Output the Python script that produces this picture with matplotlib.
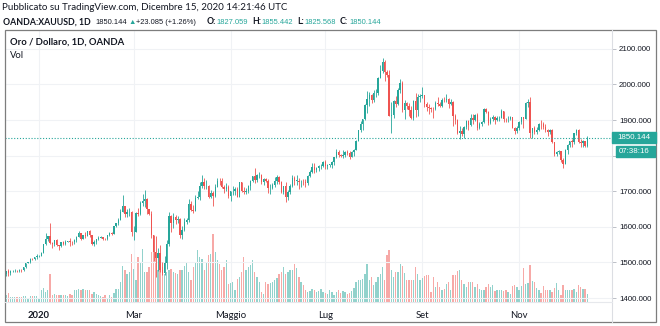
import matplotlib
matplotlib.use("Agg")
import matplotlib.pyplot as plt
from matplotlib import font_manager
from matplotlib.patches import Rectangle
from matplotlib.lines import Line2D
import numpy as np
import pandas as pd

W, H = 660, 326
FONT = ["Lato", "DejaVu Sans"]
_names = {f.name for f in font_manager.fontManager.ttflist}
if "Liberation Sans Narrow" in _names:
    NUM_FONT, NUM_SIZE, HEAD_NUM_SIZE = ["Liberation Sans Narrow", "DejaVu Sans"], 6.8, 6.5
else:
    NUM_FONT, NUM_SIZE, HEAD_NUM_SIZE = ["Liberation Sans", "DejaVu Sans"], 5.7, 5.4
UP = "#26a69a"
DOWN = "#ef5350"
UP_VOL = "#92d2cc"
DOWN_VOL = "#f7a9a7"
TXT = "#131722"

# trading days, OANDA:XAUUSD daily
dates = pd.bdate_range("2019-12-11", "2020-12-15")

# closes per month
close_dec19 = [1475, 1471, 1476, 1476, 1476, 1475, 1479, 1478, 1486, 1499, 1500, 1511, 1510, 1515, 1517]
close_jan = [1518, 1528, 1552, 1566, 1574, 1556, 1552, 1562, 1548, 1545, 1557, 1552, 1557, 1560, 1558, 1557,
             1563, 1571, 1582, 1567, 1576, 1575, 1589]
close_feb = [1577, 1553, 1557, 1566, 1570, 1572, 1567, 1565, 1576, 1584, 1581, 1602, 1611, 1620, 1643, 1658,
             1635, 1641, 1643, 1585]
close_mar = [1587, 1640, 1636, 1668, 1674, 1679, 1649, 1635, 1576, 1530, 1512, 1527, 1478, 1470, 1498, 1553,
             1631, 1611, 1629, 1618, 1621, 1577]
close_apr = [1591, 1613, 1620, 1663, 1647, 1646, 1681, 1683, 1714, 1727, 1715, 1716, 1683, 1694, 1686, 1713,
             1730, 1729, 1713, 1707, 1713, 1686]
close_may = [1700, 1702, 1706, 1685, 1725, 1702, 1697, 1702, 1715, 1730, 1743, 1732, 1745, 1747, 1725, 1735,
             1728, 1709, 1709, 1719, 1730]
close_jun = [1740, 1727, 1699, 1714, 1684, 1697, 1714, 1737, 1730, 1730, 1726, 1727, 1726, 1722, 1743, 1754,
             1768, 1761, 1764, 1771, 1772, 1781]
close_jul = [1770, 1775, 1775, 1783, 1795, 1809, 1803, 1799, 1802, 1810, 1807, 1796, 1810, 1817, 1842, 1871,
             1888, 1902, 1941, 1958, 1970, 1956, 1975]
close_aug = [1976, 2019, 2039, 2063, 2035, 2028, 1911, 1915, 1954, 1944, 1985, 2003, 1929, 1947, 1940, 1929,
             1907, 1954, 1929, 1964, 1968]
close_sep = [1970, 1944, 1938, 1934, 1932, 1931, 1947, 1946, 1940, 1957, 1955, 1960, 1944, 1950, 1912, 1900,
             1863, 1868, 1862, 1881, 1898, 1886]
close_oct = [1906, 1900, 1913, 1877, 1888, 1894, 1931, 1922, 1892, 1902, 1908, 1900, 1905, 1907, 1925, 1904,
             1902, 1902, 1908, 1878, 1868, 1879]
close_nov = [1894, 1909, 1904, 1948, 1952, 1863, 1877, 1866, 1873, 1889, 1888, 1880, 1872, 1867, 1871, 1838,
             1805, 1811, 1812, 1788, 1777]
close_dec = [1816, 1830, 1841, 1839, 1863, 1871, 1839, 1837, 1840, 1827.059, 1850.144]

high_dec19 = [1477, 1481, 1479, 1479, 1481, 1478, 1481, 1481, 1488, 1499, 1502, 1512, 1513, 1516, 1524]
high_jan = [1520, 1530, 1553, 1582, 1575, 1611, 1558, 1563, 1565, 1550, 1558, 1560, 1563, 1561, 1568, 1561,
            1566, 1573, 1588, 1584, 1578, 1585, 1589]
high_feb = [1592, 1578, 1562, 1567, 1574, 1574, 1572, 1570, 1577, 1585, 1587, 1603, 1612, 1624, 1649, 1689,
            1660, 1650, 1654, 1646]
high_mar = [1602, 1642, 1652, 1672, 1692, 1703, 1681, 1651, 1646, 1576, 1575, 1540, 1548, 1500, 1517, 1564,
            1643, 1634, 1638, 1634, 1631, 1626]
high_apr = [1602, 1626, 1626, 1677, 1672, 1661, 1689, 1700, 1727, 1747, 1738, 1732, 1718, 1704, 1700, 1720,
            1738, 1738, 1736, 1718, 1722, 1718]
high_may = [1702, 1714, 1712, 1712, 1726, 1727, 1713, 1709, 1717, 1732, 1744, 1765, 1749, 1754, 1748, 1738,
            1737, 1735, 1721, 1723, 1740]
high_jun = [1745, 1744, 1730, 1716, 1727, 1703, 1720, 1745, 1744, 1745, 1736, 1731, 1734, 1734, 1745, 1760,
            1779, 1779, 1767, 1774, 1776, 1785]
high_jul = [1789, 1776, 1777, 1786, 1796, 1818, 1817, 1806, 1817, 1813, 1815, 1813, 1813, 1820, 1843, 1872,
            1898, 1904, 1945, 1981, 1978, 1974, 1984]
high_aug = [1986, 2020, 2055, 2075, 2070, 2040, 2040, 1951, 1956, 1967, 1989, 2016, 2010, 1955, 1950, 1947,
            1940, 1955, 1977, 1974, 1974]
high_sep = [1992, 1971, 1952, 1945, 1937, 1937, 1953, 1966, 1952, 1963, 1966, 1973, 1962, 1960, 1953, 1917,
            1903, 1882, 1878, 1883, 1901, 1900]
high_oct = [1917, 1917, 1918, 1920, 1895, 1897, 1933, 1933, 1925, 1908, 1913, 1912, 1911, 1912, 1932, 1925,
            1907, 1911, 1911, 1909, 1880, 1882]
high_nov = [1897, 1910, 1910, 1950, 1960, 1965, 1879, 1883, 1880, 1891, 1899, 1894, 1889, 1875, 1876, 1875,
            1839, 1814, 1815, 1812, 1793]
high_dec = [1819, 1832, 1842, 1848, 1865, 1875, 1874, 1848, 1845, 1841, 1855.442]

low_dec19 = [1462, 1463, 1464, 1472, 1472, 1473, 1472, 1474, 1476, 1484, 1498, 1499, 1506, 1508, 1510]
low_jan = [1516, 1517, 1526, 1550, 1561, 1553, 1540, 1547, 1545, 1536, 1544, 1548, 1550, 1557, 1547, 1550,
           1552, 1558, 1571, 1564, 1566, 1568, 1574]
low_feb = [1571, 1548, 1547, 1553, 1562, 1568, 1563, 1562, 1563, 1574, 1578, 1579, 1600, 1606, 1618, 1643,
           1627, 1629, 1630, 1575]
low_mar = [1564, 1585, 1631, 1633, 1659, 1657, 1637, 1633, 1570, 1504, 1458, 1475, 1474, 1466, 1464, 1482,
           1545, 1587, 1596, 1609, 1610, 1569]
low_apr = [1567, 1588, 1609, 1613, 1644, 1640, 1644, 1678, 1676, 1710, 1705, 1706, 1680, 1681, 1660, 1685,
           1711, 1718, 1708, 1695, 1700, 1681]
low_may = [1673, 1689, 1690, 1683, 1684, 1697, 1691, 1691, 1695, 1704, 1727, 1722, 1727, 1738, 1720, 1719,
           1726, 1696, 1693, 1705, 1711]
low_jun = [1721, 1720, 1694, 1692, 1670, 1675, 1693, 1713, 1719, 1718, 1705, 1712, 1719, 1713, 1719, 1740,
           1751, 1752, 1754, 1756, 1762, 1767]
low_jul = [1762, 1762, 1768, 1766, 1774, 1793, 1795, 1795, 1793, 1797, 1801, 1792, 1795, 1800, 1816, 1840,
           1866, 1871, 1900, 1920, 1939, 1947, 1951]
low_aug = [1964, 1970, 2017, 2032, 2010, 2020, 1911, 1863, 1906, 1936, 1941, 1975, 1922, 1904, 1932, 1911,
           1902, 1900, 1910, 1912, 1951]
low_sep = [1962, 1937, 1925, 1916, 1922, 1906, 1928, 1940, 1936, 1937, 1952, 1950, 1935, 1942, 1882, 1890,
           1860, 1848, 1855, 1850, 1876, 1872]
low_oct = [1882, 1890, 1896, 1872, 1874, 1883, 1892, 1919, 1887, 1890, 1896, 1889, 1898, 1897, 1905, 1895,
           1894, 1895, 1899, 1877, 1860, 1865]
low_nov = [1872, 1889, 1879, 1904, 1936, 1850, 1851, 1862, 1860, 1869, 1874, 1875, 1867, 1856, 1862, 1836,
           1800, 1800, 1804, 1781, 1764]
low_dec = [1776, 1806, 1824, 1825, 1834, 1858, 1836, 1825, 1824, 1825, 1825.568]

# volume (thousands of ticks)
vol_dec19 = [7, 9, 5, 5, 5, 5, 5, 5, 6, 6, 3, 6, 6, 6, 6]
vol_jan = [4, 12, 14, 10, 12, 28, 7, 8, 7, 7, 7, 7, 7, 6, 8, 7, 12, 12, 13, 12, 13, 12, 12]
vol_feb = [12, 8, 10, 8, 7, 6, 5, 7, 3, 7, 5, 9, 13, 13, 20, 36, 32, 28, 30, 48]
vol_mar = [33, 22, 45, 40, 53, 30, 30, 35, 50, 58, 45, 32, 38, 35, 28, 30, 32, 33, 30, 29, 28, 32]
vol_apr = [32, 36, 40, 30, 22, 35, 40, 52, 45, 43, 32, 40, 47, 48, 68, 50, 42, 38, 32, 35, 42, 18]
vol_may = [19, 20, 12, 23, 25, 30, 45, 32, 35, 37, 42, 30, 25, 20, 10, 8, 20, 18, 19, 20, 22]
vol_jun = [24, 28, 30, 35, 28, 30, 32, 32, 38, 34, 25, 20, 17, 12, 10, 11, 13, 12, 10, 11, 13, 10]
vol_jul = [9, 8, 12, 10, 7, 10, 12, 9, 11, 10, 8, 9, 11, 14, 20, 22, 22, 23, 28, 38, 22, 25, 17]
vol_aug = [20, 25, 28, 35, 22, 47, 52, 32, 25, 30, 30, 38, 36, 29, 22, 22, 22, 22, 35, 28, 22]
vol_sep = [24, 26, 27, 27, 10, 25, 15, 20, 15, 12, 13, 18, 20, 12, 27, 27, 31, 32, 22, 18, 15, 20]
vol_oct = [20, 20, 15, 18, 13, 12, 12, 15, 18, 15, 17, 11, 12, 12, 12, 11, 12, 10, 8, 16, 17, 15]
vol_nov = [12, 16, 34, 18, 19, 37, 21, 20, 14, 12, 9, 16, 12, 12, 12, 10, 14, 19, 12, 7, 17]
vol_dec = [12, 12, 12, 12, 13, 10, 17, 15, 13, 13, 8]

closes = np.array(close_dec19 + close_jan + close_feb + close_mar + close_apr + close_may + close_jun
                  + close_jul + close_aug + close_sep + close_oct + close_nov + close_dec, dtype=float)
highs = np.array(high_dec19 + high_jan + high_feb + high_mar + high_apr + high_may + high_jun
                 + high_jul + high_aug + high_sep + high_oct + high_nov + high_dec, dtype=float)
lows = np.array(low_dec19 + low_jan + low_feb + low_mar + low_apr + low_may + low_jun
                + low_jul + low_aug + low_sep + low_oct + low_nov + low_dec, dtype=float)
volumes = np.array(vol_dec19 + vol_jan + vol_feb + vol_mar + vol_apr + vol_may + vol_jun
                   + vol_jul + vol_aug + vol_sep + vol_oct + vol_nov + vol_dec, dtype=float) * 1000
# each daily candle opens where the previous one closed
opens = np.concatenate([[1467.0], closes[:-1]])

month_labels = ["2020", "Mar", "Maggio", "Lug", "Set", "Nov"]
month_starts = ["2020-01", "2020-03", "2020-05", "2020-07", "2020-09", "2020-11"]
price_ticks = [1400, 1500, 1600, 1700, 1800, 1900, 2000, 2100]
hidden_tick = 1800   # covered by the countdown box
countdown = "07:38:16"

n = len(dates)
idx = np.arange(n)
up = closes >= opens

fig = plt.figure(figsize=(W / 100, H / 100), dpi=100)
fig.patch.set_facecolor("white")


def fx(px):
    return px / W


def fy(py):
    return 1 - py / H


L, R, T, B = 5, 612, 30, 302
ax_vol = fig.add_axes([fx(L), fy(B), fx(R - L), (B - T) / H])
ax = ax_vol.twinx()

# volume
ax_vol.bar(idx, volumes, width=0.6, color=np.where(up, UP_VOL, DOWN_VOL), linewidth=0, zorder=2)
ax_vol.set_ylim(0, volumes.max() * 4.0)
ax_vol.set_yticks([])

# month grid + labels
tick_pos = [int(np.argmax(dates.strftime("%Y-%m") == m)) for m in month_starts]
for p in tick_pos:
    ax_vol.axvline(p, color="#f0f2f5", lw=0.8, zorder=0)
ax_vol.set_xticks(tick_pos)
ax_vol.set_xticklabels(month_labels, fontsize=6.8, color=TXT, family=FONT)
ax_vol.get_xticklabels()[0].set_fontweight("bold")
ax_vol.tick_params(axis="x", length=0, pad=6.5)
ax_vol.set_xlim(-0.45, 275.2)

# candles
colors = np.where(up, UP, DOWN)
ax.vlines(idx, lows, highs, colors=colors, lw=0.6, zorder=3)
body = closes - opens
body = np.where(np.abs(body) < 1.0, np.where(body < 0, -1.0, 1.0), body)
ax.bar(idx, body, bottom=opens, width=0.62, color=colors, linewidth=0, zorder=4)

ax.set_ylim(1389, 2153)
ax.set_yticks(price_ticks)
ax.set_yticklabels(["" if v == hidden_tick else f"{v:.3f}" for v in price_ticks],
                   fontsize=NUM_SIZE, color=TXT, family=NUM_FONT)
ax.tick_params(axis="y", length=3, width=0.6, color="#b2b5be", pad=2.0)
for v in price_ticks:
    ax.axhline(v, color="#f0f2f5", lw=0.8, zorder=0)

for a in (ax, ax_vol):
    for s in a.spines.values():
        s.set_visible(False)

# last price line
last = closes[-1]
ax.axhline(last, color=UP, lw=0.8, ls=(0, (1, 1.6)), zorder=5)

# frame and separators
fig.add_artist(Rectangle((fx(5), fy(322)), fx(656 - 5), (322 - 30) / H, fill=False,
                         ec="#7d7d7d", lw=0.9, transform=fig.transFigure))
fig.add_artist(Line2D([fx(R), fx(R)], [fy(322), fy(30)], color="#dcdee3", lw=0.8,
                      transform=fig.transFigure))
fig.add_artist(Line2D([fx(L), fx(R)], [fy(B), fy(B)], color="#e6e8ec", lw=0.8,
                      transform=fig.transFigure))

# price label boxes
fig.canvas.draw()
ly = ax.transData.transform((0, last))[1]   # display pixels from bottom
fig.add_artist(Rectangle((fx(R), (ly - 5.5) / H), fx(656 - R), 11 / H, color=UP,
                         transform=fig.transFigure, zorder=10))
fig.text(fx(617), ly / H, f"{last:.3f}", color="white", fontsize=NUM_SIZE, family=NUM_FONT,
         va="center", ha="left", zorder=11)
fig.add_artist(Rectangle((fx(616), (ly - 19.1) / H), fx(655 - 616), 11 / H, color=UP,
                         transform=fig.transFigure, zorder=10))
fig.text(fx(619), (ly - 13.6) / H, countdown, color="white", fontsize=NUM_SIZE, family=NUM_FONT,
         va="center", ha="left", zorder=11)

# header
fig.text(fx(2), fy(8), "Pubblicato su TradingView.com, Dicembre 15, 2020 14:21:46 UTC",
         fontsize=7.0, color=TXT, family=FONT, va="center", ha="left")

chg = closes[-1] - closes[-2]
pct = chg / closes[-2] * 100
# (text, left x in px, colour, weight, numeric font)
segments = [
    ("OANDA:XAUUSD, 1D", 3, TXT, "bold", False),
    (f"{closes[-1]:.3f}", 95, TXT, "normal", True),
    ("\u25B2", 128, UP, "normal", True),
    (f"+{chg:.3f} (+{pct:.2f}%)", 136, TXT, "normal", True),
    ("O:", 207, TXT, "bold", False), (f"{opens[-1]:.3f}", 216, UP, "normal", True),
    ("H:", 252, TXT, "bold", False), (f"{highs[-1]:.3f}", 261, UP, "normal", True),
    ("L:", 297, TXT, "bold", False), (f"{lows[-1]:.3f}", 304, UP, "normal", True),
    ("C:", 340, TXT, "bold", False), (f"{closes[-1]:.3f}", 349, UP, "normal", True),
]
for s, px, c, w, num in segments:
    fig.text(fx(px), fy(22), s, fontsize=HEAD_NUM_SIZE if num else 6.3, color=c, fontweight=w,
             family=NUM_FONT if num else FONT, va="center", ha="left")

fig.text(fx(10), fy(42), "Oro / Dollaro, 1D, OANDA", fontsize=6.8, color=TXT, fontweight="bold",
         family=FONT, va="center", ha="left")
fig.text(fx(10), fy(55), "Vol", fontsize=6.8, color=TXT, family=FONT, va="center", ha="left")

fig.savefig("out.png", dpi=100, facecolor="white")
